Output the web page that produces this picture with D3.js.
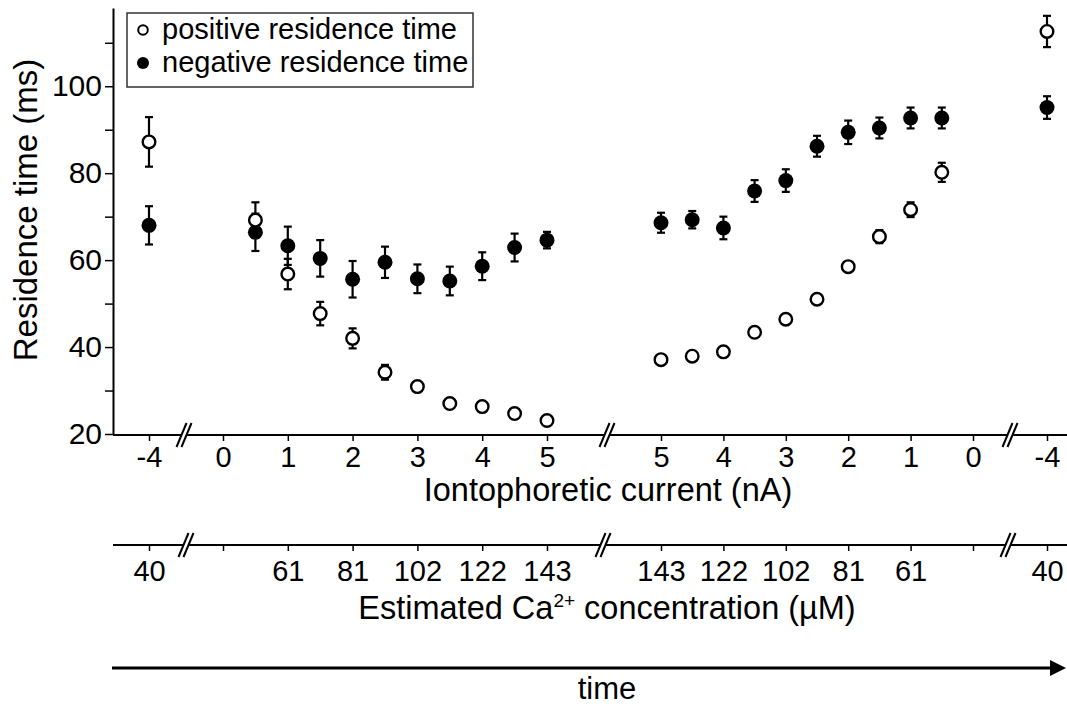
<!DOCTYPE html>
<html>
<head>
<meta charset="utf-8">
<script src="https://cdn.jsdelivr.net/npm/d3@7"></script>
<style>
  html, body { margin: 0; padding: 0; background: #fff; }
  svg text { font-family: "Liberation Sans", Arial, Helvetica, sans-serif; fill: #000; }
</style>
</head>
<body>
<svg id="chart" width="1067" height="707"></svg>
<script>
// ── data ──────────────────────────────────────────────
// current ramps 0 -> 5 nA, then back 5 -> 0 nA, with a -4 nA reading before and after
const upCurrent       = [0.5, 1, 1.5, 2, 2.5, 3, 3.5, 4, 4.5, 5];
const upPositive      = [69.2, 56.8, 47.7, 42.0, 34.2, 30.9, 27.0, 26.3, 24.7, 23.1];
const upPositiveErr   = [4.1, 3.5, 2.7, 2.3, 1.7, 1.0, 0.8, 0.8, 0.8, 0.8];
const upNegative      = [66.4, 63.3, 60.4, 55.6, 59.5, 55.7, 55.2, 58.6, 62.9, 64.6];
const upNegativeErr   = [4.3, 4.4, 4.2, 4.2, 3.6, 3.3, 3.3, 3.2, 3.2, 1.9];

const downCurrent     = [5, 4.5, 4, 3.5, 3, 2.5, 2, 1.5, 1, 0.5];
const downPositive    = [37.1, 37.9, 38.9, 43.4, 46.4, 51.0, 58.5, 65.4, 71.6, 80.2];
const downPositiveErr = [0.8, 0.8, 0.8, 0.8, 0.8, 0.8, 0.8, 1.5, 1.7, 2.2];
const downNegative    = [68.6, 69.3, 67.4, 75.9, 78.3, 86.2, 89.4, 90.4, 92.7, 92.7];
const downNegativeErr = [2.3, 2.0, 2.6, 2.5, 2.6, 2.4, 2.7, 2.4, 2.4, 2.4];

const REVERSE_CURRENT = -4;
const startPositive = [87.2], startPositiveErr = [5.7];
const startNegative = [68.0], startNegativeErr = [4.4];
const endPositive   = [112.6], endPositiveErr = [3.6];
const endNegative   = [95.1], endNegativeErr = [2.6];

// tick labels
const upTicks   = [0, 1, 2, 3, 4, 5];
const downTicks = [5, 4, 3, 2, 1, 0];
const upCa      = ['', '61', '81', '102', '122', '143'];
const downCa    = ['143', '122', '102', '81', '61', ''];
const reverseCa = '40';
const yTicks    = [20, 30, 40, 50, 60, 70, 80, 90, 100, 110];

// ── layout ────────────────────────────────────────────
const X0 = 113, X1 = 1067;
const AXIS_Y = 435, CA_Y = 545, TIME_Y = 668;
const FONT_TICK = 29, FONT_TITLE = 32.5;

const svg = d3.select('#chart');

const y = d3.scaleLinear().domain([20, 118]).range([434, 8]);

// one scale per segment of the broken x axis
const xStart = d3.scaleLinear().domain([-4, -3]).range([149, 214]);
const xUp    = d3.scaleLinear().domain([0, 5]).range([223, 547]);
const xDown  = d3.scaleLinear().domain([5, 0]).range([661, 973]);
const xEnd   = d3.scaleLinear().domain([-4, -3]).range([1047, 1110]);

const plain = d => String(d); // hyphen minus like the original

// ── y axis ────────────────────────────────────────────
const yAxis = svg.append('g')
  .attr('transform', `translate(${X0},0)`)
  .call(d3.axisLeft(y).tickValues(yTicks).tickSize(8).tickSizeOuter(0).tickPadding(3)
    .tickFormat(d => d % 20 === 0 ? d : ''));
yAxis.select('.domain').attr('stroke-width', 2);
yAxis.selectAll('.tick line').attr('stroke-width', 1.5);
yAxis.selectAll('text').style('font-size', '30px');

svg.append('text')
  .attr('transform', 'translate(37,210) rotate(-90)')
  .attr('text-anchor', 'middle')
  .style('font-size', '33px')
  .text('Residence time (ms)');

// ── broken x axes ─────────────────────────────────────
function brokenLine(yPos, breaks) {
  let from = X0;
  const g = svg.append('g').attr('stroke', '#000').attr('stroke-width', 2);
  for (const c of breaks) {
    g.append('line').attr('x1', from).attr('x2', c - 2.5).attr('y1', yPos).attr('y2', yPos);
    for (const dx of [-2.5, 2.5]) {
      g.append('line')
        .attr('x1', c + dx - 5).attr('y1', yPos + 12)
        .attr('x2', c + dx + 5).attr('y2', yPos - 12);
    }
    from = c + 2.5;
  }
  g.append('line').attr('x1', from).attr('x2', X1).attr('y1', yPos).attr('y2', yPos);
}

function tickRow(yPos, scale, values, format, pad) {
  const g = svg.append('g')
    .attr('transform', `translate(0,${yPos})`)
    .call(d3.axisBottom(scale).tickValues(values).tickSize(6).tickPadding(pad).tickFormat(format));
  g.select('.domain').remove();
  g.selectAll('.tick line').attr('stroke-width', 1.5);
  g.selectAll('text').style('font-size', FONT_TICK + 'px');
}

brokenLine(AXIS_Y, [184, 607, 1010]);
tickRow(AXIS_Y, xStart, [REVERSE_CURRENT], plain, 5);
tickRow(AXIS_Y, xUp, upTicks, plain, 5);
tickRow(AXIS_Y, xDown, downTicks, plain, 5);
tickRow(AXIS_Y, xEnd, [REVERSE_CURRENT], plain, 5);

svg.append('text')
  .attr('x', 608).attr('y', 501)
  .attr('text-anchor', 'middle')
  .style('font-size', FONT_TITLE + 'px')
  .text('Iontophoretic current (nA)');

brokenLine(CA_Y, [186, 603, 1008]);
tickRow(CA_Y, xStart, [REVERSE_CURRENT], () => reverseCa, 9);
tickRow(CA_Y, xUp, upTicks, (d, i) => upCa[i], 9);
tickRow(CA_Y, xDown, downTicks, (d, i) => downCa[i], 9);
tickRow(CA_Y, xEnd, [REVERSE_CURRENT], () => reverseCa, 9);

const caTitle = svg.append('text')
  .attr('x', 607).attr('y', 619)
  .attr('text-anchor', 'middle')
  .style('font-size', FONT_TITLE + 'px');
caTitle.append('tspan').text('Estimated Ca');
caTitle.append('tspan').attr('dy', -12).style('font-size', '19px').text('2+');
caTitle.append('tspan').attr('dy', 12).text(' concentration (\u00B5M)');

// ── time arrow ────────────────────────────────────────
svg.append('line')
  .attr('x1', 112).attr('x2', 1052).attr('y1', TIME_Y).attr('y2', TIME_Y)
  .attr('stroke', '#000').attr('stroke-width', 3);
svg.append('path')
  .attr('d', `M1050,${TIME_Y - 8}L1066,${TIME_Y}L1050,${TIME_Y + 8}Z`)
  .attr('fill', '#000');
svg.append('text')
  .attr('x', 607).attr('y', 699)
  .attr('text-anchor', 'middle')
  .style('font-size', '31px')
  .text('time');

// ── points ────────────────────────────────────────────
function series(scale, xs, vals, errs, kind) {
  return xs.map((c, i) => ({ x: scale(c), v: vals[i], e: errs[i], kind }));
}
const points = [
  ...series(xStart, [REVERSE_CURRENT], startNegative, startNegativeErr, 'neg'),
  ...series(xUp, upCurrent, upNegative, upNegativeErr, 'neg'),
  ...series(xDown, downCurrent, downNegative, downNegativeErr, 'neg'),
  ...series(xEnd, [REVERSE_CURRENT], endNegative, endNegativeErr, 'neg'),
  ...series(xStart, [REVERSE_CURRENT], startPositive, startPositiveErr, 'pos'),
  ...series(xUp, upCurrent, upPositive, upPositiveErr, 'pos'),
  ...series(xDown, downCurrent, downPositive, downPositiveErr, 'pos'),
  ...series(xEnd, [REVERSE_CURRENT], endPositive, endPositiveErr, 'pos'),
];

const CAP = 4;
const bars = svg.append('g').attr('stroke', '#000').attr('stroke-width', 2.2);
for (const p of points) {
  const yt = y(p.v + p.e), yb = y(p.v - p.e);
  bars.append('line').attr('x1', p.x).attr('x2', p.x).attr('y1', yt).attr('y2', yb);
  bars.append('line').attr('x1', p.x - CAP).attr('x2', p.x + CAP).attr('y1', yt).attr('y2', yt);
  bars.append('line').attr('x1', p.x - CAP).attr('x2', p.x + CAP).attr('y1', yb).attr('y2', yb);
}

svg.append('g').selectAll('circle')
  .data(points.filter(p => p.kind === 'neg'))
  .join('circle')
  .attr('cx', d => d.x).attr('cy', d => y(d.v))
  .attr('r', 7.5).attr('fill', '#000');

svg.append('g').selectAll('circle')
  .data(points.filter(p => p.kind === 'pos'))
  .join('circle')
  .attr('cx', d => d.x).attr('cy', d => y(d.v))
  .attr('r', 6.3).attr('fill', '#fff').attr('stroke', '#000').attr('stroke-width', 2.4);

// ── legend ────────────────────────────────────────────
const legend = svg.append('g');
legend.append('rect')
  .attr('x', 127).attr('y', 13).attr('width', 346).attr('height', 74)
  .attr('fill', '#fff').attr('stroke', '#333').attr('stroke-width', 1.5);
legend.append('circle').attr('cx', 143).attr('cy', 30).attr('r', 4.8)
  .attr('fill', '#fff').attr('stroke', '#000').attr('stroke-width', 2);
legend.append('circle').attr('cx', 143).attr('cy', 63).attr('r', 6).attr('fill', '#000');
legend.append('text').attr('x', 162).attr('y', 39).style('font-size', '29px')
  .text('positive residence time');
legend.append('text').attr('x', 162).attr('y', 72).style('font-size', '29px')
  .text('negative residence time');
</script>
</body>
</html>
